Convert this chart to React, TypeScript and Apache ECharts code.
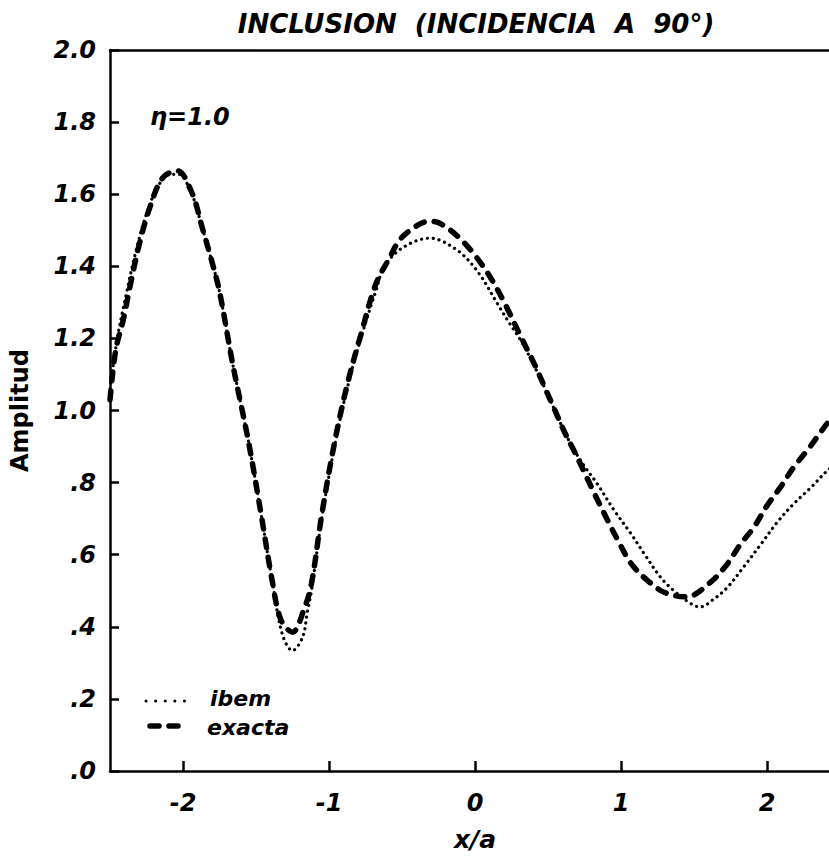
import React, { useEffect, useRef } from "react";
import * as echarts from "echarts";

// Exact solution (dashed): x/a positions and amplitudes
const exactX = [
  -2.5, -2.46, -2.41, -2.36, -2.3, -2.23, -2.14, -2.04, -1.94, -1.87, -1.8, -1.75,
  -1.66, -1.55, -1.46, -1.39, -1.33, -1.25, -1.17, -1.12, -1.05, -0.96, -0.87,
  -0.775, -0.68, -0.59, -0.51, -0.38, -0.31, -0.23, -0.1, 0.01, 0.11, 0.2, 0.32,
  0.41, 0.48, 0.55, 0.61, 0.68, 0.73, 0.82, 0.91, 0.98, 1.07, 1.18, 1.3, 1.45,
  1.6, 1.72, 1.82, 1.91, 2.0, 2.09, 2.18, 2.29, 2.38, 2.5,
];
const exactY = [
  1.03, 1.17, 1.25, 1.35, 1.46, 1.56, 1.645, 1.665, 1.605, 1.51, 1.41, 1.33,
  1.13, 0.91, 0.7, 0.53, 0.42, 0.385, 0.45, 0.52, 0.71, 0.915, 1.08,
  1.22, 1.35, 1.42, 1.476, 1.517, 1.525, 1.517, 1.476, 1.425, 1.366, 1.3, 1.2,
  1.126, 1.062, 0.998, 0.943, 0.887, 0.845, 0.768, 0.694, 0.639, 0.575, 0.529, 0.495, 0.483,
  0.519, 0.57, 0.63, 0.676, 0.736, 0.786, 0.841, 0.897, 0.947, 1.01,
];

// IBEM result (dotted)
const ibemX = [
  -2.5, -2.45, -2.39, -2.33, -2.27, -2.21, -2.15, -2.09, -2.03, -1.94, -1.87, -1.8,
  -1.75, -1.66, -1.55, -1.46, -1.39, -1.32, -1.25, -1.18, -1.15, -1.12, -1.05,
  -0.96, -0.87, -0.775, -0.68, -0.62, -0.49, -0.31, -0.12, 0.02, 0.16, 0.23, 0.32,
  0.41, 0.48, 0.55, 0.61, 0.68, 0.75, 0.84, 0.95, 1.07, 1.16, 1.27, 1.36, 1.48,
  1.54, 1.64, 1.73, 1.84, 1.96, 2.07, 2.18, 2.3, 2.41, 2.5,
];
const ibemY = [
  1.06, 1.2, 1.32, 1.43, 1.52, 1.59, 1.635, 1.655, 1.655, 1.6, 1.51, 1.41,
  1.33, 1.13, 0.91, 0.7, 0.53, 0.38, 0.334, 0.372, 0.437, 0.5, 0.7,
  0.905, 1.07, 1.21, 1.33, 1.4, 1.453, 1.478, 1.444, 1.384, 1.292, 1.246, 1.19,
  1.12, 1.06, 0.998, 0.943, 0.89, 0.845, 0.795, 0.725, 0.657, 0.602, 0.538, 0.501, 0.464,
  0.455, 0.478, 0.51, 0.566, 0.63, 0.69, 0.74, 0.786, 0.832, 0.86,
];

const xTicks = [-2, -1, 0, 1, 2];

const FONT = "'DejaVu Sans', 'Liberation Sans', sans-serif";
const textBase = {
  fontFamily: FONT,
  fontWeight: "bold" as const,
  fontStyle: "italic" as const,
  color: "#000",
};

export default function App() {
  const ref = useRef<HTMLDivElement>(null);

  useEffect(() => {
    if (!ref.current) return;
    const chart = echarts.init(ref.current, null, { renderer: "svg" });

    const exact = exactX.map((x, i) => [x, exactY[i]]);
    const ibem = ibemX.map((x, i) => [x, ibemY[i]]);

    const axisLineStyle = { color: "#000", width: 2.5 };

    chart.setOption({
      animation: false,
      backgroundColor: "#fff",
      title: {
        text: "INCLUSION  (INCIDENCIA  A  90°)",
        left: 471,
        top: 6,
        textAlign: "center",
        textStyle: { ...textBase, fontSize: 26 },
      },
      grid: { left: 108, top: 50, right: 20, bottom: 82 },
      xAxis: [
        {
          type: "value",
          min: -2.5,
          max: 2.5,
          position: "bottom",
          axisLine: { show: true, onZero: false, lineStyle: axisLineStyle },
          axisTick: {
            show: true,
            inside: true,
            length: 10,
            customValues: xTicks,
            lineStyle: axisLineStyle,
          },
          axisLabel: {
            ...textBase,
            fontSize: 24,
            margin: 20,
            customValues: xTicks,
            formatter: (v: number) => (v < 0 ? "-" + Math.abs(v) : String(v)),
          },
          splitLine: { show: false },
          name: "x/a",
          nameLocation: "middle",
          nameGap: 56,
          nameTextStyle: { ...textBase, fontSize: 25 },
        },
        {
          type: "value",
          min: -2.5,
          max: 2.5,
          position: "top",
          axisLine: { show: true, onZero: false, lineStyle: axisLineStyle },
          axisTick: { show: false },
          axisLabel: { show: false },
          splitLine: { show: false },
        },
      ],
      yAxis: {
        type: "value",
        min: 0,
        max: 2,
        interval: 0.2,
        axisLine: { show: true, onZero: false, lineStyle: axisLineStyle },
        axisTick: { show: true, inside: true, length: 9, lineStyle: axisLineStyle },
        axisLabel: {
          ...textBase,
          fontSize: 24,
          margin: 14,
          formatter: (v: number) => {
            const s = v.toFixed(1);
            return v < 1 ? s.slice(1) : s;
          },
        },
        splitLine: { show: false },
        name: "Amplitud",
        nameLocation: "middle",
        nameGap: 78,
        nameTextStyle: { ...textBase, fontStyle: "normal", fontSize: 24 },
      },
      series: [
        {
          name: "ibem",
          type: "line",
          data: ibem,
          smooth: 0.35,
          showSymbol: false,
          lineStyle: { color: "#000", width: 3.2, type: [0.1, 5.8], cap: "round" },
        },
        {
          name: "exacta",
          type: "line",
          data: exact,
          smooth: 0.35,
          showSymbol: false,
          lineStyle: { color: "#000", width: 5.5, type: [9, 10], cap: "round" },
        },
      ],
      graphic: [
        {
          type: "text",
          x: 150,
          y: 117,
          style: {
            text: "η=1.0",
            font: `italic bold 24px ${FONT}`,
            fill: "#000",
            verticalAlign: "middle",
          },
        },
        {
          type: "line",
          shape: { x1: 146, y1: 701, x2: 185, y2: 701 },
          style: { stroke: "#000", lineWidth: 3, lineDash: [0.1, 9.5], lineCap: "round" },
        },
        {
          type: "text",
          x: 210,
          y: 698,
          style: {
            text: "ibem",
            font: `italic bold 22px ${FONT}`,
            fill: "#000",
            verticalAlign: "middle",
          },
        },
        {
          type: "line",
          shape: { x1: 150, y1: 726, x2: 183, y2: 726 },
          style: { stroke: "#000", lineWidth: 5.5, lineDash: [9, 10], lineCap: "round" },
        },
        {
          type: "text",
          x: 207,
          y: 727,
          style: {
            text: "exacta",
            font: `italic bold 22px ${FONT}`,
            fill: "#000",
            verticalAlign: "middle",
          },
        },
      ],
    });

    return () => chart.dispose();
  }, []);

  return (
    <div
      style={{
        position: "fixed",
        left: 0,
        top: 0,
        width: 829,
        height: 857,
        overflow: "hidden",
        background: "#fff",
      }}
    >
      <div ref={ref} style={{ width: 860, height: 857 }} />
    </div>
  );
}
